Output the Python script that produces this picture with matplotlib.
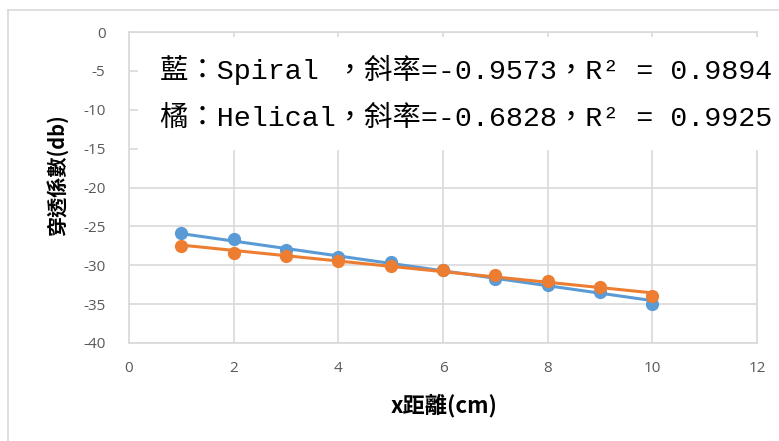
import numpy as np
import matplotlib
matplotlib.use("Agg")
import matplotlib.pyplot as plt
from matplotlib.patches import Rectangle
from matplotlib.lines import Line2D

plt.rcParams["axes.unicode_minus"] = False

# Measured penetration coefficient vs. distance
distance_cm = [1, 2, 3, 4, 5, 6, 7, 8, 9, 10]
spiral_db = [-25.9, -26.6, -28.0, -29.0, -29.6, -30.6, -31.8, -32.5, -33.4, -35.0]
helical_db = [-27.5, -28.4, -28.8, -29.4, -30.1, -30.6, -31.3, -32.0, -32.8, -33.9]

# Linear trendline parameters
spiral_slope, spiral_r2 = -0.9573, 0.9894
helical_slope, helical_r2 = -0.6828, 0.9925

x_ticks = [0, 2, 4, 6, 8, 10, 12]
y_ticks = [0, -5, -10, -15, -20, -25, -30, -35, -40]

BLUE = "#5B9BD5"
ORANGE = "#ED7D31"
GRID = "#D9D9D9"
TICK = "#595959"

W, H = 779, 441
fig = plt.figure(figsize=(W / 100, H / 100), dpi=100)
ax = fig.add_axes([129 / W, 1 - 343 / H, (757 - 129) / W, (343 - 32) / H])

# chart frame (left and top edges)
fig.add_artist(Line2D([8 / W, 8 / W], [0, 1 - 10 / H], color=GRID, lw=1.2,
                      transform=fig.transFigure))
fig.add_artist(Line2D([8 / W, 1], [1 - 10 / H, 1 - 10 / H], color=GRID, lw=1.2,
                      transform=fig.transFigure))

x = np.array(distance_cm, dtype=float)
for ys, slope, color in [(spiral_db, spiral_slope, BLUE), (helical_db, helical_slope, ORANGE)]:
    ys = np.array(ys)
    intercept = ys.mean() - slope * x.mean()
    ax.plot([x[0], x[-1]], [intercept + slope * x[0], intercept + slope * x[-1]],
            color=color, lw=2.2, solid_capstyle="round", zorder=3)
    ax.plot(x, ys, "o", color=color, ms=8.5, mec=color, zorder=4)

ax.set_xlim(0, 12)
ax.set_ylim(-40, 0)
ax.set_xticks(x_ticks)
ax.set_yticks(y_ticks)
ax.grid(True, color=GRID, lw=1.2)
ax.set_axisbelow(True)
for s in ax.spines.values():
    s.set_color(GRID)
    s.set_linewidth(1.2)
ax.tick_params(axis="x", length=0, labelsize=11, labelcolor=TICK, pad=13)
ax.tick_params(axis="y", length=0, labelsize=11, labelcolor=TICK, pad=17)
for lab in ax.get_xticklabels() + ax.get_yticklabels():
    lab.set_family(["Open Sans", "DejaVu Sans"])

cjk = ["Noto Sans CJK TC", "DejaVu Sans"]
ax.set_xlabel("x距離(cm)", fontsize=16, fontweight="bold", family=cjk, va="center")
ax.set_ylabel("穿透係數(db)", fontsize=14.5, fontweight="bold", family=cjk, va="center")
ax.xaxis.set_label_coords((444 - 129) / 628, (343 - 406) / 311)
ax.yaxis.set_label_coords((57 - 129) / 628, (343 - 175) / 311)

# equation box
fig.add_artist(Rectangle((138 / W, 1 - 150 / H), (W - 138) / W, (150 - 37) / H,
                         transform=fig.transFigure, facecolor="white",
                         edgecolor="none", zorder=5))
fam = ["Liberation Mono", "Noto Sans CJK TC"]
fig.text(160 / W, 1 - 70 / H, f"藍：Spiral ，斜率={spiral_slope}，R² = {spiral_r2}",
         fontsize=20.4, family=fam, va="center", ha="left", zorder=6)
fig.text(160 / W, 1 - 119 / H, f"橘：Helical，斜率={helical_slope}，R² = {helical_r2}",
         fontsize=20.4, family=fam, va="center", ha="left", zorder=6)

fig.savefig("out.png", dpi=100)
